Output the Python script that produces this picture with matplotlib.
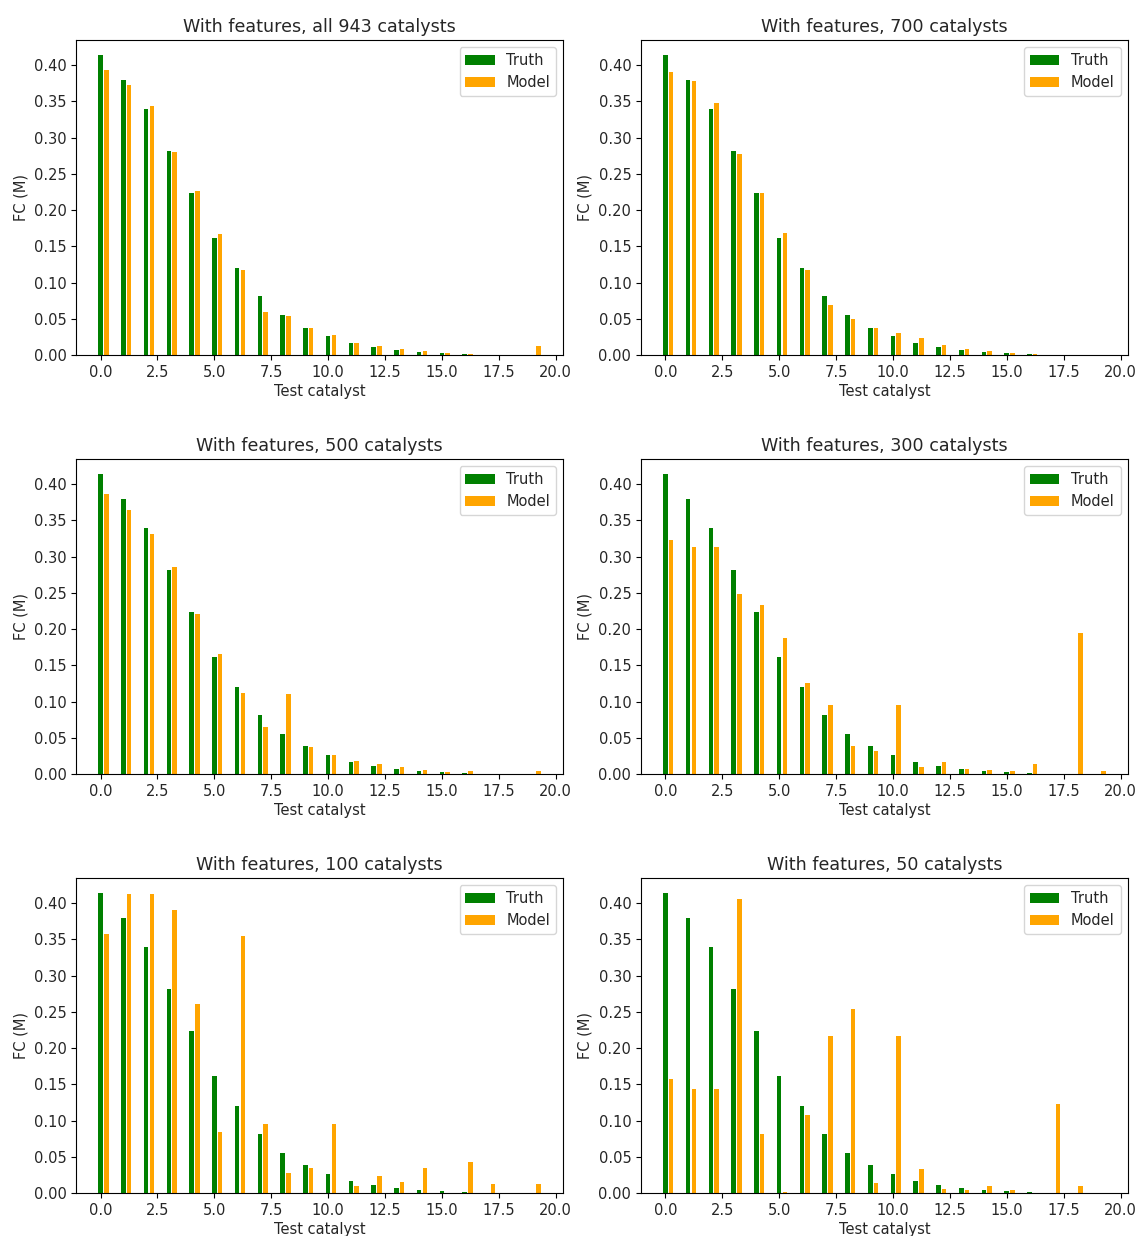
import numpy as np
import matplotlib
matplotlib.use("Agg")
import matplotlib.pyplot as plt

# Ground-truth FC for the 20 test catalysts (same in every panel)
truth = [0.414, 0.379, 0.340, 0.282, 0.224, 0.161, 0.120, 0.082, 0.055, 0.038,
         0.026, 0.017, 0.011, 0.007, 0.004, 0.003, 0.001, 0.0003, 0.0001, 0.0]

# Model predictions for each training-set size
model_943 = [0.394, 0.372, 0.344, 0.280, 0.226, 0.167, 0.117, 0.060, 0.054, 0.037,
             0.027, 0.016, 0.012, 0.008, 0.005, 0.003, 0.001, 0.0, 0.0, 0.012]
model_700 = [0.391, 0.378, 0.348, 0.278, 0.224, 0.169, 0.117, 0.069, 0.050, 0.037,
             0.031, 0.024, 0.014, 0.008, 0.005, 0.003, 0.001, 0.0, 0.0, 0.0]
model_500 = [0.386, 0.364, 0.331, 0.285, 0.221, 0.165, 0.112, 0.065, 0.111, 0.037,
             0.026, 0.018, 0.014, 0.010, 0.006, 0.003, 0.004, 0.0, 0.0, 0.004]
model_300 = [0.323, 0.313, 0.313, 0.249, 0.233, 0.188, 0.125, 0.095, 0.039, 0.032,
             0.095, 0.010, 0.017, 0.007, 0.005, 0.004, 0.014, 0.0, 0.195, 0.004]
model_100 = [0.357, 0.413, 0.413, 0.391, 0.261, 0.084, 0.354, 0.095, 0.027, 0.034,
             0.095, 0.009, 0.023, 0.015, 0.034, 0.0, 0.043, 0.012, 0.0, 0.012]
model_50 = [0.157, 0.143, 0.143, 0.405, 0.082, 0.002, 0.108, 0.217, 0.254, 0.014,
            0.217, 0.033, 0.005, 0.004, 0.010, 0.004, 0.0, 0.123, 0.010, 0.0]

titles = ["With features, all 943 catalysts", "With features, 700 catalysts",
          "With features, 500 catalysts", "With features, 300 catalysts",
          "With features, 100 catalysts", "With features, 50 catalysts"]
models = [model_943, model_700, model_500, model_300, model_100, model_50]

x = np.arange(len(truth))
width = 0.2

plt.rcParams["font.size"] = 10.5
text_color = "#262626"
plt.rcParams["text.color"] = text_color
plt.rcParams["axes.labelcolor"] = text_color
plt.rcParams["xtick.labelcolor"] = text_color
plt.rcParams["ytick.labelcolor"] = text_color

fig, axes = plt.subplots(3, 2, figsize=(11.37, 12.36), dpi=100)
fig.subplots_adjust(left=0.067, right=0.992, top=0.9676, bottom=0.0348,
                    wspace=0.16, hspace=0.33)

for ax, title, pred in zip(axes.flat, titles, models):
    ax.bar(x, truth, width=width, color="green", label="Truth")
    ax.bar(x + 0.25, pred, width=width, color="orange", label="Model")
    ax.set_title(title, fontsize=12.6)
    ax.set_xlabel("Test catalyst", labelpad=3)
    ax.set_ylabel("FC (M)")
    ax.legend(loc="upper right")

fig.savefig("out.png", dpi=100)
